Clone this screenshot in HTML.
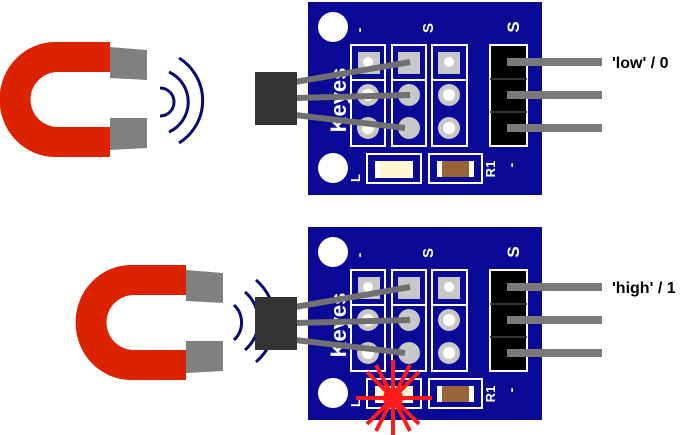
<!DOCTYPE html>
<html><head><meta charset="utf-8"><style>html,body{margin:0;padding:0;background:#fff}svg{display:block}</style></head>
<body>
<svg width="700" height="435" viewBox="0 0 700 435" xmlns="http://www.w3.org/2000/svg" font-family="Liberation Sans, sans-serif">
<defs>
<g id="board">
  <rect x="308" y="2" width="234" height="193" fill="#0a0a96"/>
  <circle cx="333" cy="27" r="15" fill="#fff"/>
  <circle cx="333" cy="168" r="15" fill="#fff"/>
  <text x="0" y="0" transform="translate(364,30) rotate(-90)" fill="#fff" font-weight="bold" font-size="14" text-anchor="middle">-</text>
  <text x="0" y="0" transform="translate(433,28) rotate(-90)" fill="#fff" font-weight="bold" font-size="15" text-anchor="middle">S</text>
  <text x="0" y="0" transform="translate(519,27) rotate(-90)" fill="#fff" font-weight="bold" font-size="17" text-anchor="middle">S</text>
  <text x="0" y="0" transform="translate(346,100) rotate(-90)" fill="#fff" font-weight="bold" font-size="22" text-anchor="middle">Keyes</text>
  <g fill="none" stroke="#fff" stroke-width="2">
    <rect x="351" y="45" width="34" height="101"/><line x1="351" y1="80" x2="385" y2="80"/>
    <rect x="392" y="45" width="34" height="101"/><line x1="392" y1="80" x2="426" y2="80"/>
    <rect x="432" y="45" width="35" height="101"/><line x1="432" y1="80" x2="467" y2="80"/>
    <rect x="367" y="154" width="54" height="29"/>
    <rect x="429" y="154" width="53" height="29"/>
  </g>
  <g fill="#c8c8c8">
    <rect x="358" y="52" width="22" height="22"/><rect x="398" y="52" width="22" height="22"/><rect x="438" y="52" width="22" height="22"/>
    <circle cx="368" cy="95" r="11"/><circle cx="409" cy="95" r="11"/><circle cx="449" cy="95" r="11"/>
    <circle cx="368" cy="128" r="11"/><circle cx="409" cy="128" r="11"/><circle cx="449" cy="128" r="11"/>
  </g>
  <g fill="#fff">
    <circle cx="368" cy="62" r="5"/><circle cx="449" cy="62" r="5"/>
    <circle cx="368" cy="95" r="6"/><circle cx="449" cy="95" r="6"/>
    <circle cx="368" cy="128" r="6"/><circle cx="449" cy="128" r="6"/>
  </g>
  <rect x="375" y="161" width="38" height="17" fill="#fff"/>
  <rect x="380" y="161" width="30" height="17" fill="#fff6d2"/>
  <rect x="437" y="161" width="37" height="16" fill="#fff"/>
  <rect x="442" y="161" width="27" height="16" fill="#9a6438"/>
  <text x="0" y="0" transform="translate(360,182) rotate(-90)" fill="#fff" font-weight="bold" font-size="13">L</text>
  <text x="0" y="0" transform="translate(495,169) rotate(-90)" fill="#fff" font-weight="bold" font-size="13" text-anchor="middle">R1</text>
  <text x="0" y="0" transform="translate(516,165) rotate(-90)" fill="#fff" font-weight="bold" font-size="14" text-anchor="middle">-</text>
  <rect x="490" y="45" width="37" height="101" fill="#000" stroke="#fff" stroke-width="2"/>
  <line x1="490" y1="79" x2="527" y2="79" stroke="#333" stroke-width="2"/>
  <line x1="490" y1="112" x2="527" y2="112" stroke="#333" stroke-width="2"/>
  <g stroke="#7a7a7a" stroke-width="8">
    <line x1="507" y1="62" x2="602" y2="62"/><line x1="507" y1="95" x2="602" y2="95"/><line x1="507" y1="128" x2="602" y2="128"/>
  </g>
  <g stroke="#707070" stroke-width="6">
    <line x1="295" y1="82" x2="410" y2="62"/><line x1="295" y1="98" x2="410" y2="95"/><line x1="295" y1="115" x2="405" y2="128"/>
  </g>
  <rect x="255" y="72" width="42" height="53" fill="#333"/>
</g>
<g id="magnet">
  <path d="M110,42 L55,42 A55,57 0 0 0 55,157 L110,157 L110,127 L58,127 A27,27 0 0 1 58,72 L110,72 Z" fill="#dd2200"/>
  <path d="M110,47 L147,50 L147,80 L110,78 Z" fill="#808080"/>
  <path d="M110,118 L147,118 L147,148 L110,150 Z" fill="#808080"/>
</g>
</defs>
<use href="#board"/>
<use href="#board" transform="translate(0,225)"/>
<use href="#magnet"/>
<use href="#magnet" transform="translate(76,223)"/>
<g fill="none" stroke="#0a0a70" stroke-width="3">
  <path d="M160,88 A14,14 0 0 1 160,116"/>
  <path d="M169,72 A33,33 0 0 1 169,132"/>
  <path d="M179,58 A50,50 0 0 1 179,143"/>
  <path d="M234,305 A24,24 0 0 1 234,340"/>
  <path d="M245,292 A38,38 0 0 1 245,350"/>
  <path d="M256,280 A54,54 0 0 1 256,362"/>
</g>
<rect x="255" y="297" width="42" height="53" fill="#333"/>
<g stroke="#ff1a1a" stroke-width="4">
  <line x1="356" y1="398" x2="432" y2="398"/>
  <line x1="393" y1="360" x2="393" y2="435"/>
  <line x1="367" y1="372" x2="419" y2="424"/>
  <line x1="367" y1="424" x2="419" y2="372"/>
  <line x1="376" y1="365" x2="410" y2="431"/>
  <line x1="376" y1="431" x2="410" y2="365"/>
</g>
<circle cx="393" cy="398" r="10" fill="#ff1a1a"/>
<text x="612" y="68" font-weight="bold" font-size="16" fill="#000">'low' / 0</text>
<text x="612" y="293" font-weight="bold" font-size="16" fill="#000">'high' / 1</text>
</svg>
</body></html>
